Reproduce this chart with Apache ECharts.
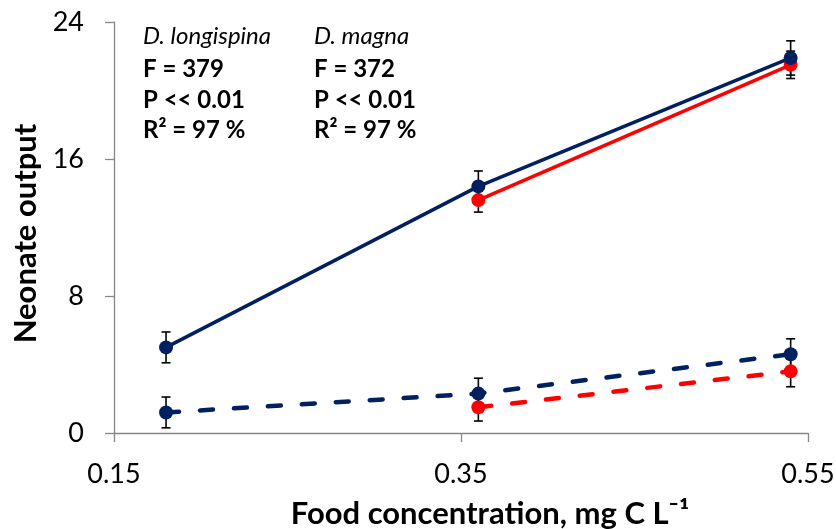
<!DOCTYPE html>
<html>
<head>
<meta charset="utf-8">
<script src="https://cdn.jsdelivr.net/npm/echarts@6/dist/echarts.min.js"></script>
<style>html,body{margin:0;padding:0;background:#fff}#c{width:836px;height:529px}</style>
</head>
<body>
<div id="c"></div>
<script>
// Data
const xTicks = [0.15, 0.35, 0.55];
const yTicks = [0, 8, 16, 24];
// Solid lines (one treatment), dashed lines (other treatment)
const longispinaSolidX = [0.18, 0.36, 0.54];
const longispinaSolid = [5.0, 14.4, 21.9];
const longispinaSolidErr = [0.9, 0.9, 1.0];
const magnaSolidX = [0.36, 0.54];
const magnaSolid = [13.6, 21.5];
const magnaSolidErr = [0.7, 0.8];
const longispinaDashX = [0.18, 0.36, 0.54];
const longispinaDash = [1.2, 2.3, 4.6];
const longispinaDashErr = [0.9, 0.9, 0.9];
const magnaDashX = [0.36, 0.54];
const magnaDash = [1.5, 3.6];
const magnaDashErr = [0.8, 0.9];
const statsLongispina = ['D. longispina', 'F = 379', 'P << 0.01', 'R² = 97 %'];
const statsMagna = ['D. magna', 'F = 372', 'P << 0.01', 'R² = 97 %'];

const NAVY = '#002060';
const RED = '#FF0000';
const FONT = 'Lato';

function pts(xs, ys) { return xs.map((x, i) => [x, ys[i]]); }
function errPts(xs, ys, es) { return xs.map((x, i) => [x, ys[i] - es[i], ys[i] + es[i]]); }

function errSeries(data) {
  return {
    type: 'custom',
    z: 1,
    silent: true,
    data: data,
    renderItem: function (params, api) {
      const x = api.value(0);
      const lo = api.coord([x, api.value(1)]);
      const hi = api.coord([x, api.value(2)]);
      const w = 4.5;
      const st = { stroke: '#000', lineWidth: 1.6 };
      return {
        type: 'group',
        children: [
          { type: 'line', shape: { x1: lo[0], y1: lo[1], x2: hi[0], y2: hi[1] }, style: st },
          { type: 'line', shape: { x1: lo[0] - w, y1: lo[1], x2: lo[0] + w, y2: lo[1] }, style: st },
          { type: 'line', shape: { x1: hi[0] - w, y1: hi[1], x2: hi[0] + w, y2: hi[1] }, style: st }
        ]
      };
    }
  };
}

function lineSeries(xs, ys, color, dashed) {
  return {
    type: 'line',
    z: 3,
    data: pts(xs, ys),
    symbol: 'circle',
    symbolSize: 14,
    itemStyle: { color: color },
    lineStyle: dashed
      ? { color: color, width: 4.5, type: [13, 21], cap: 'round' }
      : { color: color, width: 3.5 },
    animation: false
  };
}

const chart = echarts.init(document.getElementById('c'));

const textStyleCol = function (lines, left) {
  return lines.map((t, i) => ({
    type: 'text',
    left: left,
    top: [24, 57, 88, 118][i],
    style: {
      text: t,
      fontFamily: FONT,
      fontSize: 24,
      fontStyle: i === 0 ? 'italic' : 'normal',
      fontWeight: i === 0 ? 'normal' : 'bold',
      fill: '#000'
    }
  }));
};

chart.setOption({
  animation: false,
  grid: { left: 114, right: 28, top: 22, bottom: 96, containLabel: false, outerBoundsMode: 'none' },
  xAxis: {
    type: 'value',
    min: 0.15,
    max: 0.55,
    name: 'Food concentration, mg C L⁻¹',
    nameLocation: 'middle',
    nameGap: 65,
    nameTextStyle: { fontFamily: FONT, fontSize: 31, fontWeight: 'bold', color: '#000', padding: [0, 0, 0, 58] },
    axisLine: { show: true, lineStyle: { color: '#868686', width: 1.3 } },
    axisTick: { show: true, customValues: xTicks, length: 9, lineStyle: { color: '#868686', width: 1.3 } },
    axisLabel: { customValues: xTicks, fontFamily: FONT, fontSize: 27, color: '#000', margin: 28,
      formatter: v => v.toFixed(2) },
    splitLine: { show: false }
  },
  yAxis: {
    type: 'value',
    min: 0,
    max: 24,
    interval: 8,
    name: 'Neonate output',
    nameLocation: 'middle',
    nameGap: 70,
    nameTextStyle: { fontFamily: FONT, fontSize: 31, fontWeight: 'bold', color: '#000', padding: [0, 12, 0, 0] },
    axisLine: { show: true, lineStyle: { color: '#868686', width: 1.3 } },
    axisTick: { show: true, length: 9, lineStyle: { color: '#868686', width: 1.3 } },
    axisLabel: { fontFamily: FONT, fontSize: 27, color: '#000', margin: 30 },
    splitLine: { show: false }
  },
  series: [
    errSeries(errPts(longispinaSolidX, longispinaSolid, longispinaSolidErr)),
    errSeries(errPts(magnaSolidX, magnaSolid, magnaSolidErr)),
    errSeries(errPts(longispinaDashX, longispinaDash, longispinaDashErr)),
    errSeries(errPts(magnaDashX, magnaDash, magnaDashErr)),
    lineSeries(magnaSolidX, magnaSolid, RED, false),
    lineSeries(longispinaSolidX, longispinaSolid, NAVY, false),
    lineSeries(magnaDashX, magnaDash, RED, true),
    lineSeries(longispinaDashX, longispinaDash, NAVY, true)
  ],
  graphic: textStyleCol(statsLongispina, 143).concat(textStyleCol(statsMagna, 314))
});
</script>
</body>
</html>
